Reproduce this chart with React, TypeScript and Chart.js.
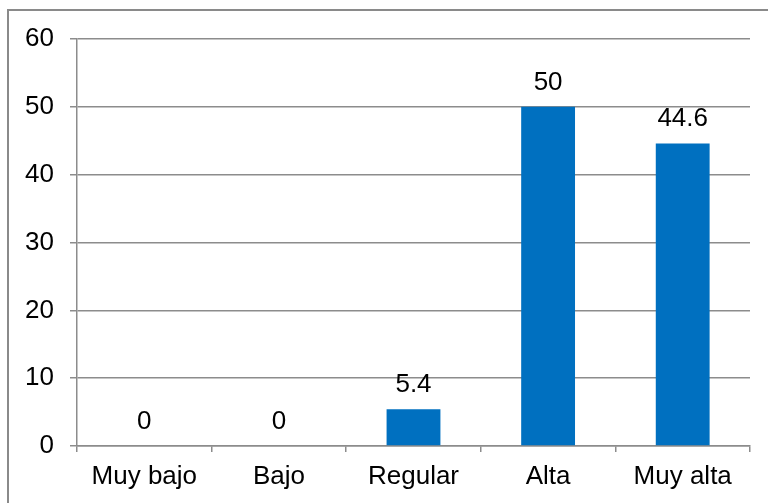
import React, { useEffect, useRef } from "react";
import { Chart, registerables } from "chart.js";

Chart.register(...registerables);

const categories = ["Muy bajo", "Bajo", "Regular", "Alta", "Muy alta"];
const values = [0, 0, 5.4, 50, 44.6];
const yMin = 0;
const yMax = 60;
const yStep = 10;

const FONT = "'Liberation Sans', Arial, sans-serif";
const BAR_COLOR = "#0070C0";
const GRID_COLOR = "#8C8C8C";

// Writes each bar's value just above its top edge.
const valueLabels = {
  id: "valueLabels",
  afterDatasetsDraw(chart: any) {
    const ctx = chart.ctx;
    const meta = chart.getDatasetMeta(0);
    const data = chart.data.datasets[0].data as number[];
    ctx.save();
    ctx.font = `26px ${FONT}`;
    ctx.fillStyle = "#000000";
    ctx.textAlign = "center";
    ctx.textBaseline = "alphabetic";
    meta.data.forEach((bar: any, i: number) => {
      ctx.fillText(String(data[i]), bar.x, bar.y - 17);
    });
    ctx.restore();
  },
};

export default function App() {
  const canvasRef = useRef<HTMLCanvasElement | null>(null);

  useEffect(() => {
    const canvas = canvasRef.current;
    if (!canvas) return;
    const chart = new Chart(canvas, {
      type: "bar",
      data: {
        labels: categories,
        datasets: [
          {
            data: values,
            backgroundColor: BAR_COLOR,
            borderWidth: 0,
            categoryPercentage: 1,
            barPercentage: 0.4,
          },
        ],
      },
      options: {
        responsive: false,
        animation: false,
        layout: { padding: { top: 39, right: 18, bottom: 0, left: 0 } },
        plugins: {
          legend: { display: false },
          tooltip: { enabled: false },
        },
        scales: {
          x: {
            offset: true,
            grid: {
              display: true,
              offset: true,
              drawOnChartArea: false,
              drawTicks: true,
              tickLength: 6,
              color: GRID_COLOR,
              lineWidth: 1.5,
            },
            border: { display: true, color: GRID_COLOR, width: 1.5 },
            ticks: {
              color: "#000000",
              font: { family: FONT, size: 26 },
              padding: 9,
              maxRotation: 0,
              autoSkip: false,
            },
            afterFit(scale: any) {
              scale.height = 57;
            },
          },
          y: {
            min: yMin,
            max: yMax,
            grid: {
              color: GRID_COLOR,
              lineWidth: 1.5,
              drawTicks: true,
              tickLength: 7,
            },
            border: { display: true, color: GRID_COLOR, width: 1.5 },
            ticks: {
              stepSize: yStep,
              color: "#000000",
              font: { family: FONT, size: 26 },
              padding: 16,
            },
            afterFit(scale: any) {
              scale.width = 77;
            },
          },
        },
      },
      plugins: [valueLabels],
    });
    return () => chart.destroy();
  }, []);

  return (
    <div
      style={{
        position: "fixed",
        left: 0,
        top: 0,
        width: 768,
        height: 503,
        overflow: "hidden",
        background: "#ffffff",
      }}
    >
      <div
        style={{
          position: "absolute",
          left: 7,
          top: 9,
          width: 800,
          height: 560,
          border: "2px solid #8A8A8A",
        }}
      />
      <canvas
        ref={canvasRef}
        width={768}
        height={503}
        style={{ position: "absolute", left: 0, top: 0 }}
      />
    </div>
  );
}
